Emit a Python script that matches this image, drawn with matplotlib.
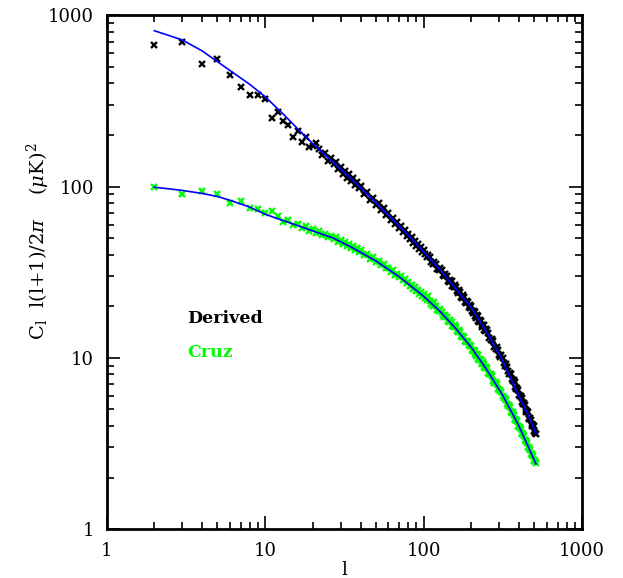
import numpy as np
import matplotlib
matplotlib.use("Agg")
import matplotlib.pyplot as plt
from matplotlib import ticker

# multipole values of the plotted points
ell_low = [2, 3, 4, 5, 6, 7, 8, 9, 10, 11, 12, 13, 14, 15, 16, 17, 18, 19]
ell_mid = [20, 21, 22, 23, 24, 25, 26, 27, 28, 29, 30, 31, 32, 33, 34, 35, 36, 37, 38, 39,
           40, 42, 44, 46, 48, 50, 52, 54, 56, 58, 60, 62, 64, 66, 68, 70, 72, 74, 76, 78,
           80, 82, 84, 86, 88, 90, 92, 94, 96, 98, 100]
ell_high = [105, 110, 115, 120, 125, 130, 135, 140, 145, 150, 155, 160, 165, 170, 175,
            180, 185, 190, 195, 200, 205, 210, 215, 220, 225, 230, 235, 240, 245, 250,
            260, 270, 280, 290, 300, 310, 320, 330, 340, 350, 360, 370, 380, 390, 400,
            410, 420, 430, 440, 450, 460, 470, 480, 490, 500, 510]
ell_extra = [102, 107, 112, 117, 122, 127, 132, 137, 142, 147, 152, 157, 162, 167, 172,
             177, 182, 187, 192, 197, 202, 207, 212, 217, 222, 227, 232, 237, 242, 247,
             255, 265, 275, 285, 295, 305, 315, 325, 335, 345, 355, 365, 375, 385, 395,
             405, 415, 425, 435, 445, 455, 465, 475, 485, 495, 505]

# "Derived" spectrum (black crosses)
derived_low = [671, 702, 518, 556, 447, 380, 343, 343, 325, 251, 274, 243, 229, 196, 211,
               183, 195, 171]
derived_mid = [172, 180, 166, 152, 158, 141, 146, 135, 139, 126, 131, 119, 124, 113, 118,
               108, 112, 102, 106, 98, 101, 91, 93, 84, 86, 78, 80, 73, 74.5, 68, 70, 64,
               66, 60.5, 62, 57, 59, 54.3, 55.8, 51.5, 53, 49.2, 50.6, 47, 48.4, 45, 46.3,
               43.2, 44.4, 41.5, 42.8]
derived_high = [38.7, 38.9, 35.2, 35.5, 32.4, 32.6, 29.9, 30.1, 27.6, 28.0, 25.8, 26.0,
                23.9, 24.2, 22.4, 22.6, 20.9, 21.2, 19.6, 20.0, 18.4, 18.6, 17.2, 17.5,
                16.1, 16.4, 15.1, 15.5, 14.4, 14.5, 13.1, 12.9, 11.6, 11.5, 10.35, 10.35,
                9.3, 9.2, 8.35, 8.2, 7.5, 7.4, 6.75, 6.7, 6.1, 6.0, 5.5, 5.45, 4.95, 4.9,
                4.48, 4.45, 4.1, 4.07, 3.74, 3.6]
derived_extra = [40.2, 39.8, 36.2, 36.4, 33.1, 33.4, 30.5, 30.9, 28.2, 28.6, 26.3, 26.7,
                 24.5, 24.8, 22.7, 23.2, 21.2, 21.6, 19.9, 20.4, 18.7, 18.9, 17.6, 17.7,
                 16.5, 16.6, 15.5, 15.6, 14.6, 14.7, 13.9, 12.8, 12.5, 11.3, 11.1, 10.1,
                 10.0, 9.0, 8.9, 8.1, 8.0, 7.3, 7.2, 6.55, 6.5, 5.95, 5.85, 5.35, 5.3,
                 4.85, 4.8, 4.4, 4.35, 4.02, 3.98, 3.66]

# "Cruz" spectrum (green crosses)
cruz_low = [99.2, 91, 94.8, 91, 80.7, 82.6, 75.3, 73.8, 70.5, 72.1, 67.5, 62.5, 63.5,
            59.5, 60.8, 57.4, 58.5, 55.2]
cruz_mid = [56.5, 53.5, 55, 52, 53.2, 50.6, 51.8, 49.5, 50.5, 47.8, 48.8, 46.3, 47.3, 45,
            46, 43.8, 44.8, 42.7, 43.6, 41.6, 42.6, 40, 40.4, 38, 38.6, 36.4, 37, 34.9,
            35.2, 33.3, 33.7, 31.8, 32.4, 30.6, 31, 29.5, 29.9, 28.3, 28.8, 27.2, 27.6,
            26.2, 26.7, 25.3, 25.8, 24.5, 25, 23.7, 24.2, 23, 23.5]
cruz_high = [21.7, 21.6, 20.1, 20.1, 18.8, 18.6, 17.4, 17.3, 16.2, 16.2, 15.1, 15.2, 14.1,
             14.1, 13.2, 13.2, 12.4, 12.4, 11.7, 11.8, 11.0, 11.0, 10.3, 10.35, 9.7, 9.75,
             9.2, 9.25, 8.7, 8.75, 8.0, 7.82, 7.15, 7.0, 6.45, 6.35, 5.83, 5.7, 5.26,
             5.15, 4.76, 4.67, 4.32, 4.26, 3.95, 3.85, 3.57, 3.5, 3.26, 3.19, 2.96, 2.91,
             2.72, 2.68, 2.5, 2.45]
cruz_extra = [22.3, 23.0, 20.6, 21.3, 19.1, 19.2, 17.8, 17.7, 16.5, 16.6, 15.4, 15.5,
              14.4, 14.5, 13.5, 13.5, 12.6, 12.6, 11.9, 11.9, 11.1, 11.1, 10.5, 10.5,
              9.9, 9.9, 9.35, 9.4, 8.85, 8.9, 8.2, 8.05, 7.35, 7.2, 6.62, 6.5, 5.98,
              5.86, 5.38, 5.3, 4.86, 4.8, 4.41, 4.36, 4.02, 3.96, 3.64, 3.6, 3.31, 3.28,
              3.02, 2.98, 2.76, 2.74, 2.53, 2.5]

# model curves (blue lines)
ell_fit_derived = [2, 3, 4, 5, 6, 8, 10, 13, 16, 20, 25, 32, 40, 50, 63, 80, 100, 126,
                   158, 200, 251, 316, 398, 450, 512]
fit_derived = [813, 718, 620, 536, 476, 395, 335, 265, 218, 178, 147, 120, 98.5, 80.4,
               65, 52, 41.7, 33, 25.7, 19.6, 14.1, 9.6, 6.0, 4.8, 3.6]
ell_fit_cruz = [2, 3, 4, 5, 6, 8, 10, 12, 15, 20, 27, 35, 50, 70, 100, 126, 158, 200,
                251, 316, 398, 450, 501, 512]
fit_cruz = [99.2, 95, 91.2, 87.5, 83.2, 75.9, 69, 65, 60.5, 55.1, 50, 44.3, 36.8, 29.8,
            22.9, 18.8, 15.0, 11.5, 8.5, 6.03, 4.03, 3.13, 2.51, 2.4]

ell = ell_low + ell_mid + ell_high + ell_extra
derived = derived_low + derived_mid + derived_high + derived_extra
cruz = cruz_low + cruz_mid + cruz_high + cruz_extra

plt.rcParams["mathtext.fontset"] = "dejavuserif"

fig = plt.figure(figsize=(6.23, 5.78), dpi=100)
ax = fig.add_axes([0.1713, 0.0845, 0.763, 0.8890])

ax.plot(ell, derived, "x", color="black", markersize=5, markeredgewidth=1.7, zorder=2)
ax.plot(ell, cruz, "x", color="#00ff00", markersize=5, markeredgewidth=1.7, zorder=2)
ax.plot(ell_fit_derived, fit_derived, "-", color="#0000ff", linewidth=1.2, zorder=3)
ax.plot(ell_fit_cruz, fit_cruz, "-", color="#0000ff", linewidth=1.2, zorder=3)

ax.set_xscale("log")
ax.set_yscale("log")
ax.set_xlim(1, 1000)
ax.set_ylim(1, 1000)

fmt = ticker.FuncFormatter(lambda v, p: f"{v:g}")
ax.xaxis.set_major_formatter(fmt)
ax.yaxis.set_major_formatter(fmt)
ax.xaxis.set_minor_formatter(ticker.NullFormatter())
ax.yaxis.set_minor_formatter(ticker.NullFormatter())

ax.tick_params(which="both", direction="in", top=True, right=True)
ax.tick_params(which="major", length=9.5, width=1.2, labelsize=13, pad=9)
ax.tick_params(which="minor", length=5, width=1.2)
for lab in ax.get_xticklabels() + ax.get_yticklabels():
    lab.set_family("DejaVu Serif")
for sp in ax.spines.values():
    sp.set_linewidth(2)

ax.set_xlabel("l", fontsize=13, family="DejaVu Serif", labelpad=1)
ax.set_ylabel(r"C$_{\rm l}$  l(l+1)/2$\pi$    ($\mu$K)$^2$", fontsize=14,
              family="DejaVu Serif")
ax.yaxis.set_label_coords(-0.115, 0.56)

ax.text(0.169, 0.41, "Derived", transform=ax.transAxes, color="black",
        fontsize=12.5, fontweight="bold", family="DejaVu Serif", va="center")
ax.text(0.169, 0.344, "Cruz", transform=ax.transAxes, color="#00ff00",
        fontsize=12.5, fontweight="bold", family="DejaVu Serif", va="center")

fig.savefig("out.png", dpi=100)
